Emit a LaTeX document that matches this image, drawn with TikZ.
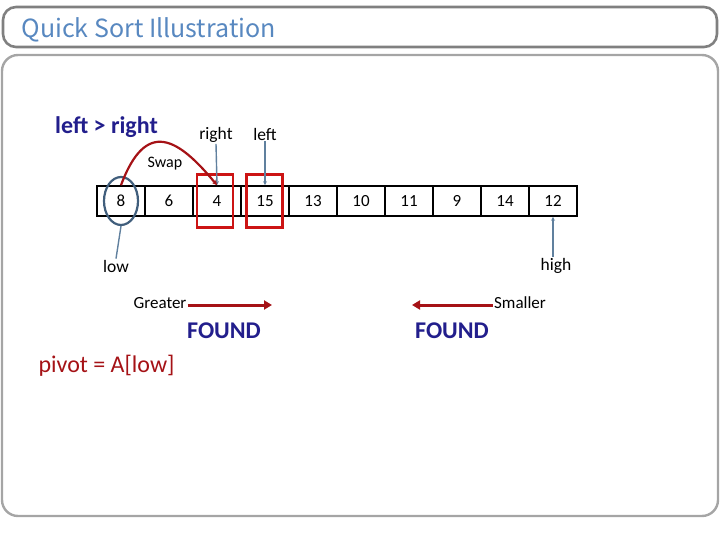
\documentclass[tikz,border=0pt]{standalone}
\usepackage{fontspec}
\setmainfont{Carlito}
\newfontfamily\titlefont{Noto Sans CJK JP}
\usetikzlibrary{shapes.geometric}
\usetikzlibrary{positioning}
\usetikzlibrary{arrows.meta}
\definecolor{framegray}{RGB}{128,128,128}
\definecolor{boxgray}{RGB}{165,165,165}
\definecolor{titleblue}{RGB}{88,136,192}
\definecolor{navytext}{RGB}{34,30,140}
\definecolor{darkred}{RGB}{165,18,22}
\definecolor{markred}{RGB}{204,20,20}
\definecolor{ringblue}{RGB}{64,94,124}
\definecolor{pointblue}{RGB}{96,128,158}

\begin{document}
\begin{tikzpicture}[x=1pt, y=-1pt,
    cell/.style={draw, line width=1.6pt, minimum width=48pt, minimum height=30pt, inner sep=0pt, font=\fontsize{17}{20}\selectfont},
    markbox/.style={draw=markred, line width=2.8pt, minimum width=36pt, minimum height=53pt, inner sep=0pt},
    pivotring/.style={draw=ringblue, ellipse, line width=2.2pt, minimum width=34pt, minimum height=48pt, inner sep=0pt},
    lbl/.style={font=\fontsize{17.5}{20}\selectfont, inner sep=1pt},
    pointer/.style={draw=pointblue, line width=1.4pt},
    bigtext/.style={font=\fontsize{24}{28}\selectfont\bfseries, text=navytext, inner sep=0pt},
    foundarrow/.style={draw=darkred, line width=3pt, -{Triangle[length=8pt, width=9pt]}}]
    \useasboundingbox (0,0) rectangle (720,540);

    % Frames
    \draw[framegray, line width=2.6pt, rounded corners=13pt] (3,7) rectangle (717,47);
    \draw[boxgray, line width=2.4pt, rounded corners=16pt] (2,55) rectangle (718,516);
    \node[anchor=west, text=titleblue, font=\titlefont\fontsize{25}{28}\selectfont] (title) at (18,30) {Quick Sort Illustration};

    % Array
    \node[cell] (c1) at (121,201) {8};
    \node[cell] (c2) at (169,201) {6};
    \node[cell] (c3) at (217,201) {4};
    \node[cell] (c4) at (265,201) {15};
    \node[cell] (c5) at (313,201) {13};
    \node[cell] (c6) at (361,201) {10};
    \node[cell] (c7) at (409,201) {11};
    \node[cell] (c8) at (457,201) {9};
    \node[cell] (c9) at (505,201) {14};
    \node[cell] (c10) at (553,201) {12};

    % Marks on the array
    \node[pivotring] (ring) at (c1) {};
    \node[markbox] (markr) at (215,201) {};
    \node[markbox] (markl) at (264.5,201) {};

    % Pointers
    \node[bigtext, anchor=west] (cond) at (55,127) {left > right};
    \node[lbl] (rightlbl) at (216,135) {right};
    \node[lbl] (leftlbl) at (265,134) {left};
    \node[lbl] (lowlbl) at (116,266) {low};
    \node[lbl] (highlbl) at (556,266) {high};
    \draw[pointer, -{Stealth[length=4pt, width=4pt]}] (rightlbl.south) -- (c3.north);
    \draw[pointer, -{Stealth[length=4pt, width=4pt]}] (leftlbl.south) -- (c4.north);
    \draw[pointer] (ring.south) -- (lowlbl.north);
    \draw[pointer, -{Stealth[length=4pt, width=4pt]}] (highlbl.north -| c10) -- (c10.south);

    % Swap
    \node[lbl, font=\fontsize{16}{19}\selectfont] (swaplbl) at (165,164) {Swap};
    \draw[darkred, line width=2.2pt, -{Stealth[length=5pt, width=5pt]}] (c1.north) .. controls (146,118) and (178,138) .. (c3.north);

    % Scans
    \node[lbl, font=\fontsize{17}{20}\selectfont] (greater) at (160,303) {Greater};
    \coordinate (gtend) at (272,305);
    \draw[foundarrow] (greater.east |- gtend) -- (gtend);
    \node[bigtext] (found1) at (224,331) {FOUND};
    \node[lbl, font=\fontsize{17}{20}\selectfont] (smaller) at (520,303) {Smaller};
    \coordinate (smend) at (412,305);
    \draw[foundarrow] (smaller.west |- smend) -- (smend);
    \node[bigtext] (found2) at (452,331) {FOUND};

    \node[anchor=west, text=darkred, font=\fontsize{24}{28}\selectfont] (pivot) at (35,366) {pivot = A[low]};
\end{tikzpicture}
\end{document}
